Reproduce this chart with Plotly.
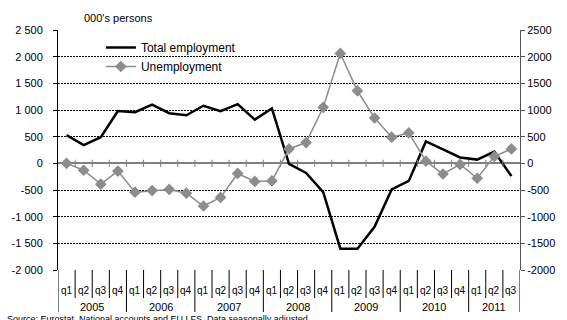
import plotly.graph_objects as go

# Quarterly change on the previous quarter, thousands of persons
years = ["2005", "2006", "2007", "2008", "2009", "2010", "2011"]
quarters = ["q1", "q2", "q3", "q4"]
n_quarters_last_year = 3

total_employment = [530, 340, 490, 980, 960, 1100, 940, 900,
                    1080, 980, 1110, 820, 1030, -10, -180, -540,
                    -1600, -1600, -1190, -490, -330, 410, 260, 110,
                    70, 220, -240]
unemployment = [0, -130, -390, -145, -540, -510, -490, -560,
                -800, -640, -190, -340, -330, 270, 390, 1050,
                2060, 1360, 850, 490, 570, 40, -200, -20,
                -280, 130, 270]

left_ticks = [2500, 2000, 1500, 1000, 500, 0, -500, -1000, -1500, -2000]


def spaced(v):
    s = f"{abs(v):,}".replace(",", " ")
    return ("-" if v < 0 else "") + s


# category labels for each point
q_labels = []
y_labels = []
for yi, yr in enumerate(years):
    nq = n_quarters_last_year if yi == len(years) - 1 else 4
    for q in quarters[:nq]:
        q_labels.append(q)
        y_labels.append(yr)
x = list(range(len(q_labels)))

FONT = "Liberation Sans, Arial, sans-serif"
W, H = 567, 320
L, R, T, B = 57, 36, 30, 50
PW, PH = W - L - R, H - T - B
YMIN, YMAX = -2000, 2500


def px_to_paper_x(p):
    return (p - L) / PW


def px_to_paper_y(p):
    return (H - B - p) / PH


fig = go.Figure()
fig.add_trace(go.Scatter(
    x=x, y=total_employment, name="Total employment", mode="lines",
    line=dict(color="black", width=2.5), yaxis="y",
))
fig.add_trace(go.Scatter(
    x=x, y=unemployment, name="Unemployment", mode="lines+markers",
    line=dict(color="#8c8c8c", width=1.5),
    marker=dict(symbol="diamond", size=9, color="#8c8c8c"), yaxis="y2",
))

shapes = []
n = len(x)
# separators below the plot: quarters short, years long
year_starts = set()
idx = 0
for yi, yr in enumerate(years):
    year_starts.add(idx)
    idx += n_quarters_last_year if yi == len(years) - 1 else 4
year_starts.add(n)
for k in range(n + 1):
    long_sep = k in year_starts
    shapes.append(dict(
        type="line", xref="x", yref="paper", x0=k - 0.5, x1=k - 0.5,
        y0=0, y1=px_to_paper_y(312 if long_sep else 298),
        line=dict(color="black", width=1),
    ))
# small tick marks across the zero line
for k in range(1, n):
    shapes.append(dict(
        type="line", xref="x", yref="y", x0=k - 0.5, x1=k - 0.5,
        y0=-68, y1=68, line=dict(color="#808080", width=1),
    ))
# white backing behind the legend
shapes.append(dict(
    type="rect", xref="paper", yref="paper", layer="between",
    x0=px_to_paper_x(88), x1=px_to_paper_x(265),
    y0=px_to_paper_y(62), y1=px_to_paper_y(50),
    fillcolor="white", line=dict(width=0),
))

annotations = []
for i, q in enumerate(q_labels):
    annotations.append(dict(
        x=i, y=px_to_paper_y(290), xref="x", yref="paper", text=q,
        showarrow=False, font=dict(family=FONT, size=10, color="black"),
        xanchor="center", yanchor="middle",
    ))
start = 0
for yi, yr in enumerate(years):
    nq = n_quarters_last_year if yi == len(years) - 1 else 4
    annotations.append(dict(
        x=start + (nq - 1) / 2, y=px_to_paper_y(307), xref="x", yref="paper",
        text=yr, showarrow=False,
        font=dict(family=FONT, size=11, color="black"),
        xanchor="center", yanchor="middle",
    ))
    start += nq

annotations.append(dict(
    x=px_to_paper_x(82), y=px_to_paper_y(18), xref="paper", yref="paper",
    text="000's persons", showarrow=False, xanchor="left", yanchor="middle",
    font=dict(family=FONT, size=11, color="black"),
))
annotations.append(dict(
    x=px_to_paper_x(3), y=px_to_paper_y(319), xref="paper", yref="paper",
    text="Source: Eurostat, National accounts and EU LFS. Data seasonally adjusted.",
    showarrow=False, xanchor="left", yanchor="middle",
    font=dict(family=FONT, size=9, color="black"),
))
annotations.append(dict(
    x=px_to_paper_x(10), y=px_to_paper_y(2), xref="paper", yref="paper",
    text="<b>on the previous quarter (000 persons)</b>",
    showarrow=False, xanchor="left", yanchor="bottom",
    font=dict(family=FONT, size=16, color="black"),
))

fig.update_layout(
    width=W, height=H,
    margin=dict(l=L, r=R, t=T, b=B, pad=0),
    paper_bgcolor="white", plot_bgcolor="white",
    font=dict(family=FONT, size=11, color="black"),
    showlegend=True,
    legend=dict(
        x=px_to_paper_x(101), y=px_to_paper_y(33), xanchor="left", yanchor="top",
        bgcolor="rgba(0,0,0,0)", font=dict(family=FONT, size=12, color="black"),
        tracegroupgap=0, itemwidth=30,
    ),
    xaxis=dict(
        range=[-0.5, n - 0.5], showticklabels=False, showgrid=False,
        zeroline=False, ticks="", showline=False, fixedrange=True,
    ),
    yaxis=dict(
        range=[YMIN, YMAX], tickvals=left_ticks,
        ticktext=[spaced(v) for v in left_ticks],
        showgrid=True, gridcolor="black", gridwidth=1, griddash="2px,1px",
        zeroline=True, zerolinecolor="#808080", zerolinewidth=1.5,
        showline=True, linecolor="black", linewidth=1,
        ticks="outside", ticklen=4, tickcolor="black", ticklabelstandoff=8,
        tickfont=dict(family=FONT, size=11, color="black"),
    ),
    yaxis2=dict(
        range=[YMIN, YMAX], tickvals=left_ticks,
        ticktext=[str(v) for v in left_ticks],
        overlaying="y", side="right", showgrid=False, zeroline=False,
        showline=True, linecolor="#555555", linewidth=1,
        ticks="outside", ticklen=4, tickcolor="#555555",
        tickfont=dict(family=FONT, size=11, color="black"),
    ),
    shapes=shapes, annotations=annotations,
)

fig.write_html("out.html")
